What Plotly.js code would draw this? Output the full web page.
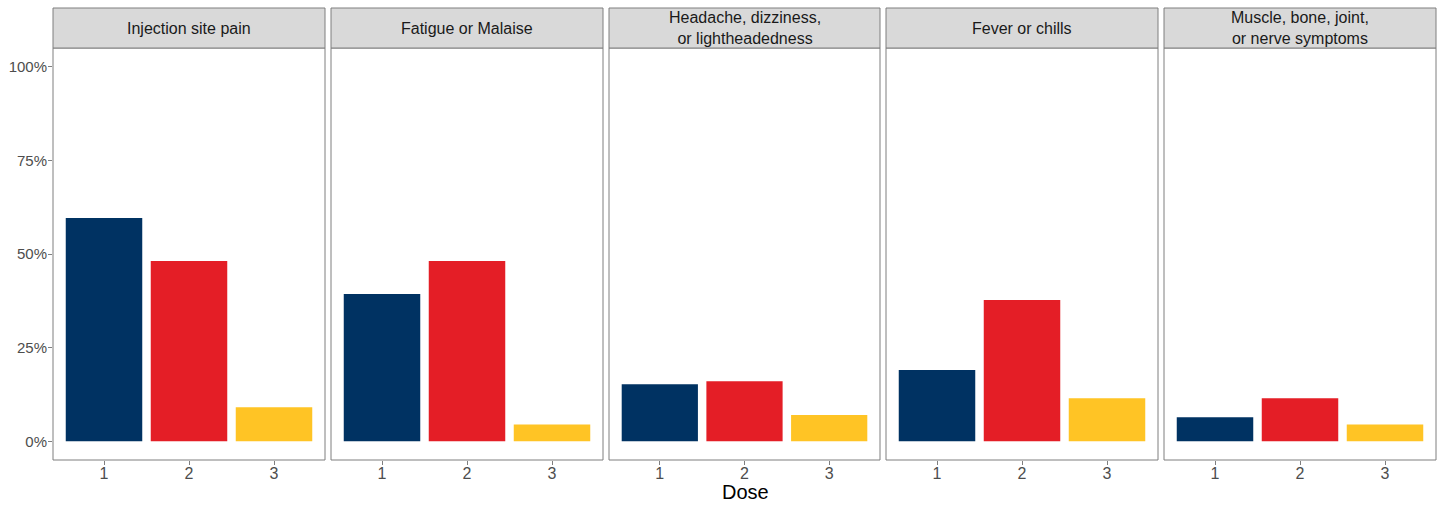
<!DOCTYPE html>
<html>
<head>
<meta charset="utf-8">
<script src="https://cdn.plot.ly/plotly-3.0.1.min.js"></script>
<style>html,body{margin:0;padding:0;background:#fff;}#chart{width:1439px;height:506px;}</style>
</head>
<body>
<div id="chart"></div>
<script>
// Data
const symptoms = ["Injection site pain", "Fatigue or Malaise", "Headache, dizziness,<br>or lightheadedness", "Fever or chills", "Muscle, bone, joint,<br>or nerve symptoms"];
const doses = [1, 2, 3];
const dose1 = [0.596, 0.393, 0.152, 0.190, 0.064];
const dose2 = [0.481, 0.481, 0.160, 0.377, 0.115];
const dose3 = [0.091, 0.045, 0.070, 0.115, 0.045];
const doseColors = ["#003262", "#e41e26", "#ffc425"];
const yTickVals = [0, 0.25, 0.5, 0.75, 1];
const yTickText = ["0%", "25%", "50%", "75%", "100%"];

const W = 1439, H = 506;
const panelPx = [[53, 325], [331, 603], [609, 880], [886, 1158], [1164, 1436]];
const plotTop = 48, plotBottom = 460, stripTop = 8;
const yDom = [(H - plotBottom) / H, (H - plotTop) / H];
const stripDom = [(H - plotTop) / H, (H - stripTop) / H];

const traces = [];
const layout = {
  width: W, height: H,
  margin: {l: 0, r: 0, t: 0, b: 0},
  paper_bgcolor: "#ffffff", plot_bgcolor: "#ffffff",
  showlegend: false,
  font: {family: "Liberation Sans, Arial, sans-serif", color: "#4d4d4d"},
  shapes: [], annotations: []
};

symptoms.forEach((s, i) => {
  const ax = i === 0 ? "" : String(i + 1);
  traces.push({
    type: "bar",
    x: doses,
    y: [dose1[i], dose2[i], dose3[i]],
    width: 0.9,
    marker: {color: doseColors, line: {width: 0}},
    xaxis: "x" + ax, yaxis: "y" + ax,
    hoverinfo: "x+y"
  });
  const dom = [panelPx[i][0] / W, panelPx[i][1] / W];
  layout["xaxis" + ax] = {
    domain: dom, range: [0.4, 3.6], anchor: "y" + ax,
    tickvals: doses, ticktext: doses.map(String),
    ticks: "outside", ticklen: 4, tickcolor: "#7f7f7f", tickwidth: 1,
    ticklabelstandoff: -5,
    tickfont: {size: 16, color: "#4d4d4d"},
    showgrid: false, zeroline: false, showline: false, fixedrange: true
  };
  layout["yaxis" + ax] = {
    domain: yDom, range: [-0.05, 1.05], anchor: "x" + ax,
    tickvals: yTickVals, ticktext: yTickText,
    showticklabels: i === 0,
    ticks: i === 0 ? "outside" : "", ticklen: 4, tickcolor: "#7f7f7f", tickwidth: 1,
    ticklabelstandoff: -2,
    tickfont: {size: 15, color: "#4d4d4d"},
    showgrid: false, zeroline: false, showline: false, fixedrange: true
  };
  // panel border
  layout.shapes.push({
    type: "rect", xref: "paper", yref: "paper",
    x0: dom[0], x1: dom[1], y0: yDom[0], y1: yDom[1],
    line: {color: "#7f7f7f", width: 1}, fillcolor: "rgba(0,0,0,0)", layer: "above"
  });
  // strip
  layout.shapes.push({
    type: "rect", xref: "paper", yref: "paper",
    x0: dom[0], x1: dom[1], y0: stripDom[0], y1: stripDom[1],
    line: {color: "#7f7f7f", width: 1}, fillcolor: "#d9d9d9", layer: "above"
  });
  layout.annotations.push({
    xref: "paper", yref: "paper",
    x: (dom[0] + dom[1]) / 2, y: (stripDom[0] + stripDom[1]) / 2,
    xanchor: "center", yanchor: "middle",
    text: s, showarrow: false,
    font: {size: 16, color: "#1a1a1a", family: "Liberation Sans, Arial, sans-serif"}
  });
});

layout.annotations.push({
  xref: "paper", yref: "paper",
  x: 745 / W, y: (H - 492) / H, xanchor: "center", yanchor: "middle",
  text: "Dose", showarrow: false,
  font: {size: 20, color: "#000000", family: "Liberation Sans, Arial, sans-serif"}
});

Plotly.newPlot("chart", traces, layout, {displayModeBar: false, staticPlot: true});
</script>
</body>
</html>
